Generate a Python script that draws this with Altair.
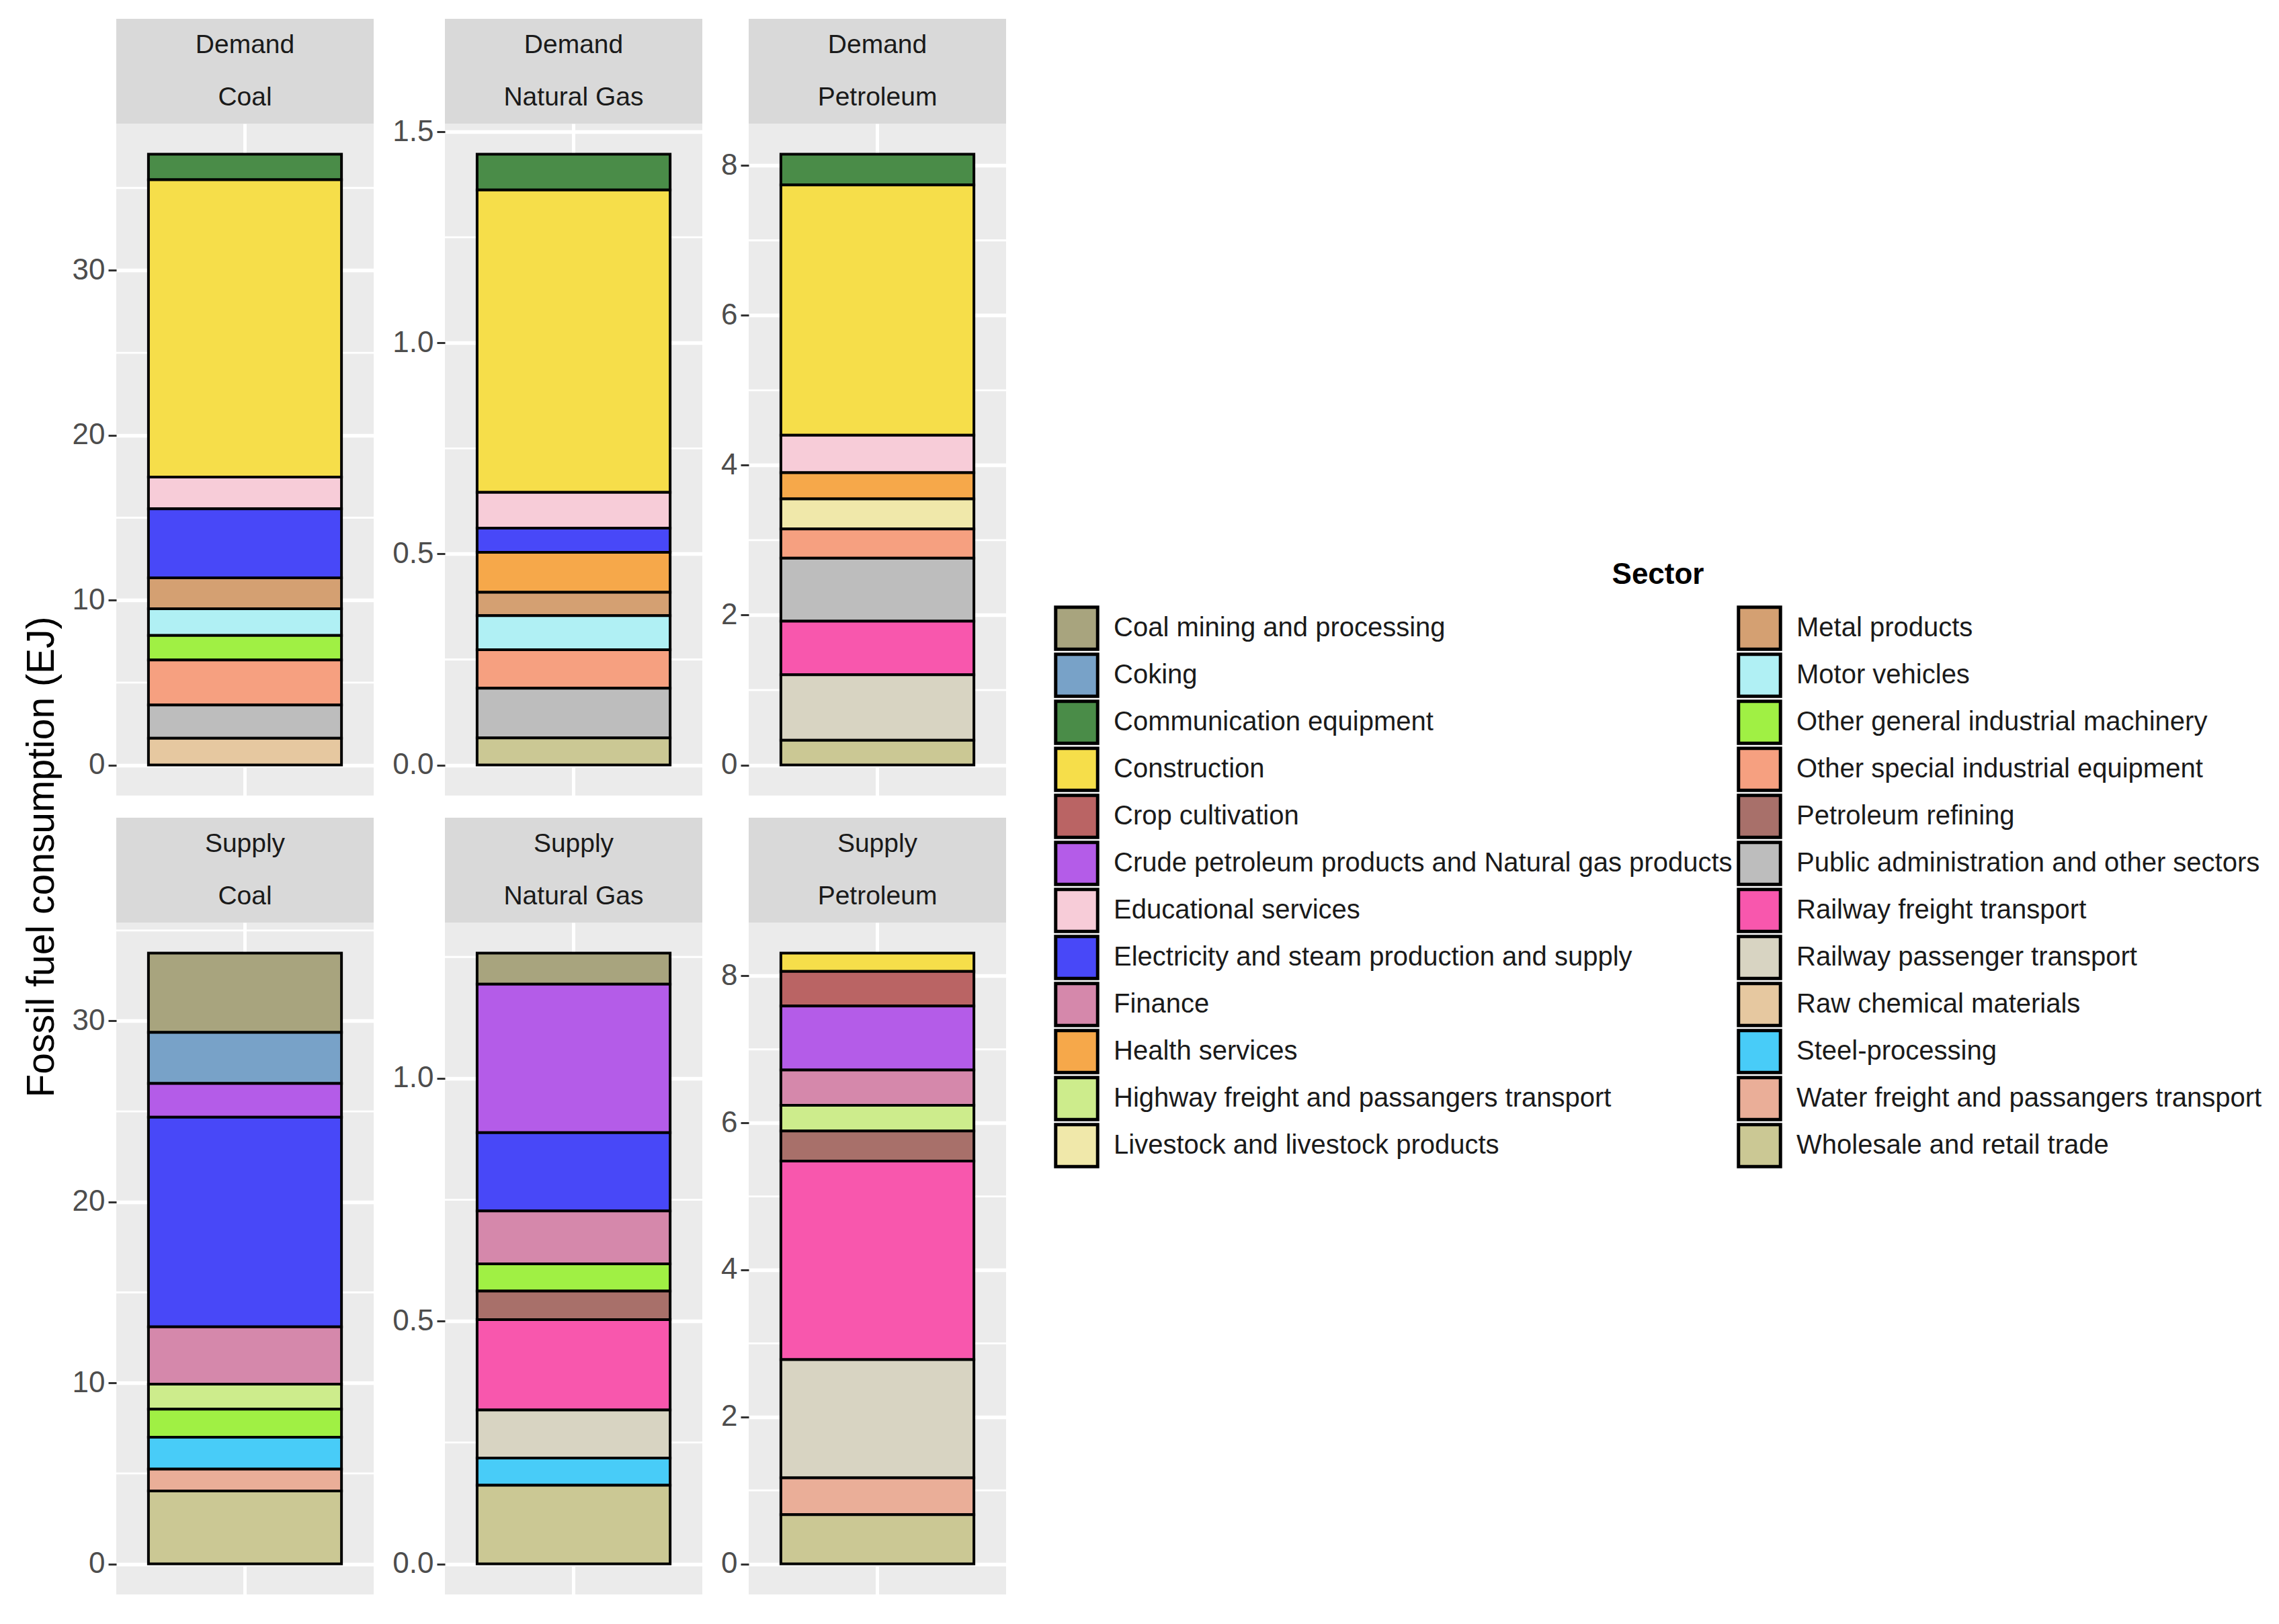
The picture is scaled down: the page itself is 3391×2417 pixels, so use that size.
import altair as alt
import pandas as pd

SECTORS = [
    "Coal mining and processing", "Coking", "Communication equipment", "Construction",
    "Crop cultivation", "Crude petroleum products and Natural gas products",
    "Educational services", "Electricity and steam production and supply", "Finance",
    "Health services", "Highway freight and passangers transport",
    "Livestock and livestock products", "Metal products", "Motor vehicles",
    "Other general industrial machinery", "Other special industrial equipment",
    "Petroleum refining", "Public administration and other sectors",
    "Railway freight transport", "Railway passenger transport", "Raw chemical materials",
    "Steel-processing", "Water freight and passangers transport", "Wholesale and retail trade",
]
COLORS = [
    "#a8a47e", "#78a2c8", "#4a8c48", "#f6de4a", "#ba6464", "#b45ce8", "#f7ccd8", "#4848f8",
    "#d588ab", "#f6a84a", "#cdec8c", "#f0e8aa", "#d4a072", "#b0f0f4", "#a0f044", "#f6a080",
    "#a8706a", "#bdbdbd", "#f857ad", "#d8d4c2", "#e6c8a0", "#48ccf8", "#eaae98", "#cbc894",
]

DEMAND_COAL_SECTORS = ["Communication equipment", "Construction", "Educational services",
                       "Electricity and steam production and supply", "Metal products",
                       "Motor vehicles", "Other general industrial machinery",
                       "Other special industrial equipment",
                       "Public administration and other sectors", "Raw chemical materials"]
DEMAND_COAL_VALUES = [1.55, 18.03, 1.93, 4.19, 1.87, 1.62, 1.49, 2.73, 2.02, 1.62]

DEMAND_GAS_SECTORS = ["Communication equipment", "Construction", "Educational services",
                      "Electricity and steam production and supply", "Health services",
                      "Metal products", "Motor vehicles", "Other special industrial equipment",
                      "Public administration and other sectors", "Wholesale and retail trade"]
DEMAND_GAS_VALUES = [0.085, 0.716, 0.085, 0.057, 0.095, 0.055, 0.081, 0.091, 0.118, 0.064]

DEMAND_PET_SECTORS = ["Communication equipment", "Construction", "Educational services",
                      "Health services", "Livestock and livestock products",
                      "Other special industrial equipment",
                      "Public administration and other sectors", "Railway freight transport",
                      "Railway passenger transport", "Wholesale and retail trade"]
DEMAND_PET_VALUES = [0.41, 3.34, 0.50, 0.35, 0.40, 0.39, 0.842, 0.713, 0.875, 0.33]

SUPPLY_COAL_SECTORS = ["Coal mining and processing", "Coking",
                       "Crude petroleum products and Natural gas products",
                       "Electricity and steam production and supply", "Finance",
                       "Highway freight and passangers transport",
                       "Other general industrial machinery", "Steel-processing",
                       "Water freight and passangers transport", "Wholesale and retail trade"]
SUPPLY_COAL_VALUES = [4.38, 2.82, 1.87, 11.58, 3.17, 1.38, 1.55, 1.76, 1.21, 4.03]

SUPPLY_GAS_SECTORS = ["Coal mining and processing",
                      "Crude petroleum products and Natural gas products",
                      "Electricity and steam production and supply", "Finance",
                      "Other general industrial machinery", "Petroleum refining",
                      "Railway freight transport", "Railway passenger transport",
                      "Steel-processing", "Wholesale and retail trade"]
SUPPLY_GAS_VALUES = [0.064, 0.306, 0.161, 0.109, 0.056, 0.059, 0.186, 0.099, 0.056, 0.162]

SUPPLY_PET_SECTORS = ["Construction", "Crop cultivation",
                      "Crude petroleum products and Natural gas products", "Finance",
                      "Highway freight and passangers transport", "Petroleum refining",
                      "Railway freight transport", "Railway passenger transport",
                      "Water freight and passangers transport", "Wholesale and retail trade"]
SUPPLY_PET_VALUES = [0.25, 0.47, 0.87, 0.48, 0.35, 0.41, 2.70, 1.61, 0.50, 0.67]

COAL_MAJOR = [0, 10, 20, 30]
COAL_MINOR = [5, 15, 25, 35]
DEMAND_GAS_MAJOR = [0, 0.5, 1.0, 1.5]
SUPPLY_GAS_MAJOR = [0, 0.5, 1.0]
GAS_MINOR = [0.25, 0.75, 1.25]
PET_MAJOR = [0, 2, 4, 6, 8]
PET_MINOR = [1, 3, 5, 7]

FONT = "Liberation Sans"
PW, PH, SH = 383, 1000, 156

LEGEND = alt.Legend(
    title="Sector", orient="none", legendX=1395, legendY=806, columns=2,
    symbolType="square", symbolSize=3900, symbolStrokeColor="black",
    symbolStrokeWidth=5, symbolOpacity=1, labelFontSize=40, labelFont=FONT,
    labelColor="#1a1a1a", labelLimit=0, labelOffset=21, titleFontSize=44,
    titleFont=FONT, titleFontWeight="bold", titleColor="black", titleAnchor="middle",
    titlePadding=22, rowPadding=0, columnPadding=6, clipHeight=70,
)


def strip_text(label, shift):
    return alt.Chart(pd.DataFrame({"t": [0]})).mark_text(
        fontSize=39, font=FONT, color="#1a1a1a", align="center", baseline="middle", dy=shift
    ).encode(text=alt.value(label))


def panel(kind, fuel, sectors, values, major, minor, fmt):
    df = pd.DataFrame({"sector": sectors, "value": values, "fuel": fuel})
    df["rank"] = [SECTORS.index(s) for s in sectors]
    total = sum(values)
    yscale = alt.Scale(domain=[-0.05 * total, 1.05 * total], nice=False, zero=False)
    yaxis = alt.Axis(values=major, format=fmt, title=None, domain=False,
                     grid=True, gridColor="white", gridWidth=5.5,
                     labelFontSize=44, labelFont=FONT, labelColor="#4d4d4d",
                     tickColor="#333333", tickWidth=3, tickSize=12, labelPadding=5)

    grid = alt.Chart(pd.DataFrame({"v": minor})).mark_rule(
        color="white", strokeWidth=2.8
    ).encode(y=alt.Y("v:Q", scale=yscale, axis=yaxis))

    bars = alt.Chart(df).mark_bar(stroke="black", strokeWidth=4, opacity=1).encode(
        x=alt.X("fuel:N", scale=alt.Scale(paddingInner=0, paddingOuter=1 / 6),
                axis=alt.Axis(title=None, labels=False, ticks=False, domain=False,
                              grid=True, gridColor="white", gridWidth=5, bandPosition=0.5)),
        y=alt.Y("value:Q", stack="zero", scale=yscale, axis=yaxis),
        color=alt.Color("sector:N", scale=alt.Scale(domain=SECTORS, range=COLORS),
                        legend=LEGEND),
        order=alt.Order("rank:Q", sort="descending"),
    )

    plot = alt.layer(grid, bars).properties(
        width=PW, height=PH, view=alt.ViewBackground(fill="#ebebeb", stroke=None)
    )

    strip = alt.layer(strip_text(kind, -39), strip_text(fuel, 39)).properties(
        width=PW, height=SH, view=alt.ViewBackground(fill="#d9d9d9", stroke=None)
    )
    return alt.vconcat(strip, plot, spacing=0, bounds="flush")


items = [
    panel("Demand", "Coal", DEMAND_COAL_SECTORS, DEMAND_COAL_VALUES, COAL_MAJOR, COAL_MINOR, "d"),
    panel("Demand", "Natural Gas", DEMAND_GAS_SECTORS, DEMAND_GAS_VALUES, DEMAND_GAS_MAJOR, GAS_MINOR, ".1f"),
    panel("Demand", "Petroleum", DEMAND_PET_SECTORS, DEMAND_PET_VALUES, PET_MAJOR, PET_MINOR, "d"),
    panel("Supply", "Coal", SUPPLY_COAL_SECTORS, SUPPLY_COAL_VALUES, COAL_MAJOR, COAL_MINOR, "d"),
    panel("Supply", "Natural Gas", SUPPLY_GAS_SECTORS, SUPPLY_GAS_VALUES, SUPPLY_GAS_MAJOR, GAS_MINOR, ".1f"),
    panel("Supply", "Petroleum", SUPPLY_PET_SECTORS, SUPPLY_PET_VALUES, PET_MAJOR, PET_MINOR, "d"),
]

chart = alt.concat(*items, columns=3, spacing={"row": 33, "column": 25}).properties(
    title=alt.Title("Fossil fuel consumption (EJ)", orient="left", anchor="middle",
                    fontSize=57, font=FONT, fontWeight="normal", color="black",
                    offset=15, dx=-75),
    padding={"left": 26, "top": 20, "right": 5, "bottom": 5},
    background="white",
).configure_view(stroke=None)

chart.save("out.html", embed_options={"renderer": "svg", "actions": False})
